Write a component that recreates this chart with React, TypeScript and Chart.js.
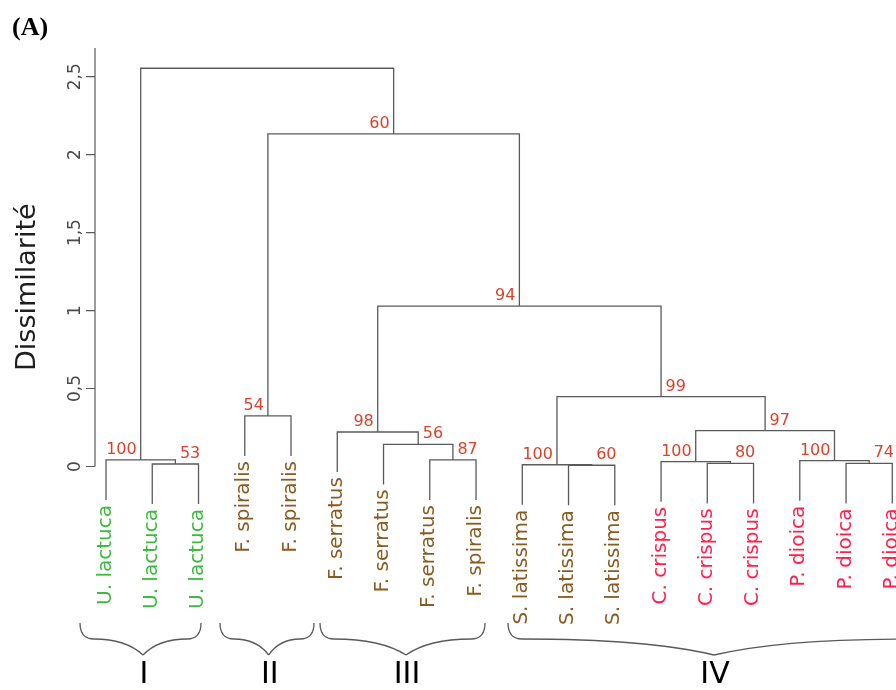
import React, { useEffect, useRef } from "react";
import { Chart, registerables } from "chart.js";
Chart.register(...registerables);

// Leaves, in plotted order (position 1..18)
const leafLabels = [
  "U. lactuca", "U. lactuca", "U. lactuca",
  "F. spiralis", "F. spiralis",
  "F. serratus", "F. serratus", "F. serratus", "F. spiralis",
  "S. latissima", "S. latissima", "S. latissima",
  "C. crispus", "C. crispus", "C. crispus",
  "P. dioica", "P. dioica", "P. dioica",
];

// hclust-style merge matrix: negative = leaf position, positive = merge row (1-based)
const mergeLeft = [-11, -10, -2, -14, -17, -13, -16, -1, -8, -7, -6, 6, -4, 2, 11, 13, 8];
const mergeRight = [-12, 1, -3, -15, -18, 4, 5, 3, -9, 9, 10, 7, -5, 12, 14, 15, 16];
const mergeHeights = [0.008, 0.011, 0.016, 0.02, 0.02, 0.031, 0.037, 0.042, 0.042, 0.142, 0.221, 0.23, 0.324, 0.448, 1.029, 2.133, 2.554];
const bootstrap = [60, 100, 53, 80, 74, 100, 100, 100, 87, 56, 98, 97, 54, 99, 94, 60, null];
const bootstrapSide = ["R", "L", "R", "R", "R", "L", "L", "L", "R", "R", "L", "R", "L", "R", "L", "L", ""];
const hang = 0.257;

// y axis
const yTickValues = [0, 0.5, 1, 1.5, 2, 2.5];
const yTickLabels = ["0", "0,5", "1", "1,5", "2", "2,5"];
const yTitle = "Dissimilarité";

// groups (braces), extents in leaf-position units
const groupNames = ["I", "II", "III", "IV"];
const groupStart = [0.438, 3.465, 5.627, 9.692];
const groupEnd = [3.054, 5.497, 9.194, 18.6];
const groupApex = [1.8, 4.518, 7.486, 14.146];

const panelLabel = "(A)";

const speciesColors: Record<string, string> = {
  "U. lactuca": "#3dbb3d",
  "F. spiralis": "#8a5a1e",
  "F. serratus": "#8a5a1e",
  "S. latissima": "#8a5a1e",
  "C. crispus": "#ff1f4b",
  "P. dioica": "#ff1f4b",
};

const FONT = "'DejaVu Sans', Verdana, sans-serif";
const LINE = "#5a5a5a";

function buildTree() {
  const n = mergeLeft.length;
  const nodeX: number[] = new Array(n);
  const leafParentH: number[] = new Array(leafLabels.length + 1);
  const segs: { x: number; y: number }[][] = [];
  for (let i = 0; i < n; i++) {
    const h = mergeHeights[i];
    const child = (c: number) => {
      if (c < 0) {
        leafParentH[-c] = h;
        return { x: -c, y: h - hang };
      }
      return { x: nodeX[c - 1], y: mergeHeights[c - 1] };
    };
    const a = child(mergeLeft[i]);
    const b = child(mergeRight[i]);
    nodeX[i] = (a.x + b.x) / 2;
    segs.push([
      { x: a.x, y: a.y },
      { x: a.x, y: h },
      { x: b.x, y: h },
      { x: b.x, y: b.y },
    ]);
  }
  return { nodeX, leafParentH, segs };
}

export default function App() {
  const ref = useRef<HTMLCanvasElement>(null);
  useEffect(() => {
    const canvas = ref.current;
    if (!canvas) return;
    const tree = buildTree();

    const decor = {
      id: "dendroDecor",
      afterDraw(chart: any) {
        const ctx: CanvasRenderingContext2D = chart.ctx;
        const xs = chart.scales.x;
        const ys = chart.scales.y;
        const X = (v: number) => xs.getPixelForValue(v);
        const Y = (v: number) => ys.getPixelForValue(v);
        const area = chart.chartArea;
        ctx.save();

        // y axis line + ticks
        ctx.strokeStyle = LINE;
        ctx.lineWidth = 1.2;
        ctx.beginPath();
        ctx.moveTo(area.left, area.top);
        ctx.lineTo(area.left, Y(0));
        yTickValues.forEach((v) => {
          ctx.moveTo(area.left - 9, Y(v));
          ctx.lineTo(area.left, Y(v));
        });
        ctx.stroke();

        // tick labels
        ctx.fillStyle = "#4a4a4a";
        ctx.font = `17px ${FONT}`;
        ctx.textAlign = "center";
        ctx.textBaseline = "alphabetic";
        yTickValues.forEach((v, i) => {
          ctx.save();
          ctx.translate(area.left - 15, Y(v));
          ctx.rotate(-Math.PI / 2);
          ctx.fillText(yTickLabels[i], 0, 0);
          ctx.restore();
        });

        // y title
        ctx.save();
        ctx.fillStyle = "#1e1e1e";
        ctx.font = `27px ${FONT}`;
        ctx.translate(35, Y(1.15));
        ctx.rotate(-Math.PI / 2);
        ctx.fillText(yTitle, 0, 0);
        ctx.restore();

        // leaf labels
        ctx.font = `20px ${FONT}`;
        ctx.textAlign = "right";
        leafLabels.forEach((lab, k) => {
          const pos = k + 1;
          const yEnd = Y(tree.leafParentH[pos] - hang) + 5;
          ctx.save();
          ctx.fillStyle = speciesColors[lab];
          ctx.translate(X(pos) + 4.5, yEnd);
          ctx.rotate(-Math.PI / 2);
          ctx.fillText(lab, 0, 0);
          ctx.restore();
        });

        // bootstrap values
        ctx.font = `16px ${FONT}`;
        ctx.fillStyle = "#d8432b";
        bootstrap.forEach((b, i) => {
          if (b == null) return;
          const px = X(tree.nodeX[i]);
          const py = Y(mergeHeights[i]) - 6;
          if (bootstrapSide[i] === "L") {
            ctx.textAlign = "right";
            ctx.fillText(String(b), px - 4, py);
          } else {
            ctx.textAlign = "left";
            ctx.fillText(String(b), px + 4.5, py);
          }
        });

        // braces
        const yTop = 623, yMid = 639, yApex = 655, r = 14;
        ctx.strokeStyle = LINE;
        ctx.lineWidth = 1.3;
        groupNames.forEach((g, i) => {
          const x1 = X(groupStart[i]);
          const x2 = X(groupEnd[i]);
          const xm = X(groupApex[i]);
          ctx.beginPath();
          ctx.moveTo(x1, yTop);
          ctx.quadraticCurveTo(x1, yMid, x1 + r, yMid);
          ctx.quadraticCurveTo(xm - (xm - x1 - r) * 0.35, yMid, xm, yApex);
          ctx.moveTo(x2, yTop);
          ctx.quadraticCurveTo(x2, yMid, x2 - r, yMid);
          ctx.quadraticCurveTo(xm + (x2 - r - xm) * 0.35, yMid, xm, yApex);
          ctx.stroke();
          ctx.fillStyle = "#000";
          ctx.font = `30px ${FONT}`;
          ctx.textAlign = "center";
          ctx.fillText(g, xm + 1, 683);
        });

        // panel label
        ctx.fillStyle = "#000";
        ctx.font = "bold 26px 'Liberation Serif', 'Times New Roman', serif";
        ctx.textAlign = "left";
        ctx.fillText(panelLabel, 12, 35);

        ctx.restore();
      },
    };

    const chart = new Chart(canvas, {
      type: "line",
      data: {
        datasets: tree.segs.map((s) => ({
          data: s,
          borderColor: LINE,
          borderWidth: 1.3,
          pointRadius: 0,
          fill: false,
          tension: 0,
        })),
      },
      options: {
        responsive: false,
        animation: false,
        devicePixelRatio: 1,
        layout: { padding: { left: 95, top: 48, right: 0, bottom: 0 } },
        plugins: { legend: { display: false }, tooltip: { enabled: false } },
        scales: {
          x: { type: "linear", display: false, min: 0.762, max: 18.08, bounds: "data" },
          y: { type: "linear", display: false, min: -1.4336, max: 2.684, bounds: "data" },
        },
      },
      plugins: [decor],
    } as any);
    return () => chart.destroy();
  }, []);

  return (
    <div style={{ position: "absolute", left: 0, top: 0, width: 896, height: 690, background: "#fff" }}>
      <canvas ref={ref} width={896} height={690} style={{ display: "block" }} />
    </div>
  );
}
